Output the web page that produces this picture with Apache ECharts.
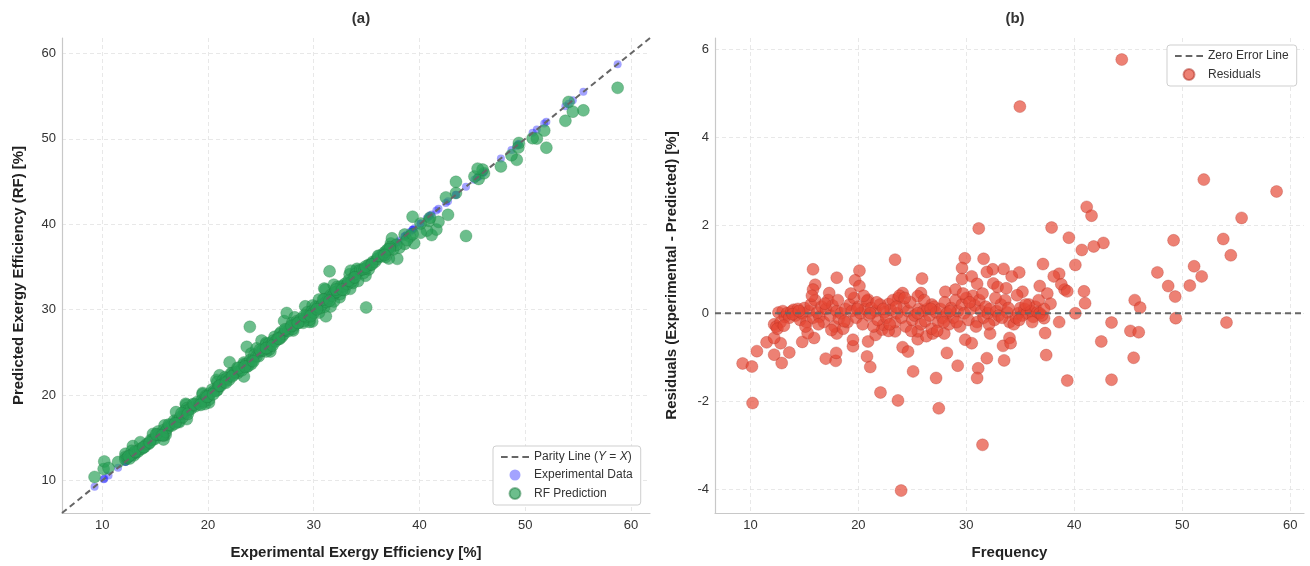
<!DOCTYPE html>
<html>
<head>
<meta charset="utf-8">
<script src="https://cdn.jsdelivr.net/npm/echarts@6/dist/echarts.min.js"></script>
<style>
html, body { margin: 0; background: #fff; }
#main { width: 1310px; height: 566px; }
</style>
</head>
<body>
<div id="main"></div>
<script>
// values (b): experimental efficiency and residual
var experimental = [
  44.4, 34.96, 52.0, 58.74, 55.5, 41.15, 41.6, 31.15, 37.9, 39.5,
  49.2, 53.8, 54.5, 42.7, 41.8, 40.7, 40.1, 37.1, 47.7, 51.1,
  51.8, 50.7, 48.7, 49.35, 40.9, 41.0, 45.6, 46.1, 40.1, 49.4,
  43.45, 54.1, 45.2, 45.97, 42.5, 45.5, 43.45, 39.35, 38.6, 37.3,
  37.4, 39.1, 38.6, 38.1, 38.8, 39.35, 34.9, 34.2, 33.45, 32.45,
  31.9, 31.6, 29.86, 29.6, 29.6, 30.5, 31.0, 32.5, 32.9, 33.7,
  35.2, 34.7, 36.8, 37.5, 37.8, 37.2, 25.9, 25.8, 25.5, 23.4,
  20.1, 19.7, 20.1, 18.0, 15.8, 16.0, 15.8, 17.3, 28.06, 29.0,
  26.8, 24.1, 23.67, 22.8, 20.9, 9.28, 10.14, 10.2, 10.6, 11.5,
  12.2, 12.9, 13.6, 12.8, 12.2, 14.8, 15.9, 15.3, 16.98, 17.9,
  17.95, 18.0, 19.5, 19.5, 20.8, 21.1, 20.9, 22.05, 23.67, 23.96,
  24.1, 24.6, 25.07, 25.5, 26.3, 26.9, 27.2, 27.45, 28.2, 27.96,
  29.2, 29.9, 30.5, 31.1, 31.0, 31.5, 31.9, 32.2, 33.4, 34.0,
  34.1, 33.5, 21.6, 22.2, 22.3, 23.4, 25.5,
  // dense band around zero
  12.2, 12.4, 12.6, 12.8, 13.0, 13.2, 13.4, 13.6, 13.8, 14.0,
  14.2, 14.4, 14.6, 14.8, 15.0, 15.2, 15.4, 15.6, 15.8, 16.0,
  16.2, 16.4, 16.6, 16.8, 17.0, 17.2, 17.4, 17.6, 17.8, 18.0,
  18.2, 18.4, 18.6, 18.8, 19.0, 19.2, 19.4, 19.6, 19.8, 20.0,
  20.2, 20.4, 20.6, 20.8, 21.0, 21.2, 21.4, 21.6, 21.8, 22.0,
  22.4, 22.6, 22.8, 23.0, 23.2, 23.4, 23.6, 23.8, 24.0, 24.2,
  24.4, 24.6, 24.8, 25.0, 25.2, 25.6, 25.8, 26.0, 26.2, 26.4,
  26.6, 26.8, 27.0, 27.2, 27.4, 27.6, 27.8, 28.0, 28.2, 28.4,
  28.6, 28.8, 29.0, 29.2, 29.4, 29.6, 29.8, 30.0, 30.2, 30.4,
  30.6, 30.8, 31.0, 31.2, 31.4, 31.6, 31.8, 32.0, 32.2, 32.6,
  32.8, 33.0, 33.2, 33.6, 33.8, 34.0, 34.4, 34.6, 34.8, 35.0,
  35.2, 35.4, 35.6, 35.8, 36.0, 36.2, 36.4, 36.6, 36.8, 37.0,
  37.2,
  12.5, 13.1, 13.9, 14.5, 15.1, 15.7, 16.3, 16.9, 17.5, 18.1,
  18.7, 19.3, 19.9, 20.5, 21.1, 21.7, 22.3, 22.9, 23.5, 24.3,
  24.9, 25.5, 26.1, 26.7, 27.3, 27.9, 28.5, 29.1, 29.7, 30.3,
  30.9, 31.5, 32.1, 32.7, 33.3, 33.9, 34.9, 35.5, 36.1, 36.7
];
var residuals = [
  5.77, 4.70, 3.04, 2.77, 2.17, 2.42, 2.22, 1.93, 1.95, 1.72,
  1.66, 1.69, 1.32, 1.60, 1.52, 1.44, 1.10, 1.12, 0.93, 1.07,
  0.84, 0.63, 0.62, 0.38, 0.50, 0.23, 0.30, 0.13, 0.0, -0.11,
  -0.21, -0.21, -0.40, -0.43, -0.64, -1.01, -1.51, -1.53, -0.20, -0.45,
  -0.95, 0.54, 0.90, 0.84, 0.66, 0.50, 0.93, 0.84, 1.01, 1.0,
  0.94, 1.24, 1.25, 1.03, 0.78, 0.84, 0.67, 0.68, 0.60, 0.57,
  0.49, 0.41, 0.62, 0.45, 0.22, -0.11, 0.79, 0.46, 0.39, 1.22,
  0.97, 0.75, 0.62, 0.81, 1.0, 0.65, 0.54, 0.46, 0.49, 0.54,
  0.20, 0.46, 0.34, 0.21, 0.31, -1.14, -1.21, -2.04, -0.86, -0.66,
  -0.94, -1.13, -0.89, -0.68, -0.56, -0.65, -0.56, -0.45, -1.03, -1.08,
  -0.90, -0.46, -0.75, -0.60, -0.98, -1.22, -0.64, -1.80, -1.98, -4.03,
  -0.77, -0.87, -1.32, -0.59, -0.52, -0.46, -1.47, -2.16, -0.90, -0.46,
  -1.19, -0.60, -0.68, -1.25, -1.47, -2.99, -1.02, -0.46, -0.74, -0.56,
  -0.68, -1.07, -0.49, -0.37, -0.26, -0.41, -0.41,
  // dense band around zero
  -0.25, -0.30, 0.02, -0.20, 0.05, -0.08, 0.0, -0.10, 0.04, 0.08,
  -0.05, 0.10, -0.15, 0.0, 0.12, -0.20, 0.05, 0.20, -0.10, 0.30,
  0.02, -0.08, 0.15, -0.20, 0.10, 0.30, -0.05, 0.18, -0.30, 0.05,
  -0.12, 0.0, -0.35, 0.10, -0.20, 0.20, 0.05, 0.35, -0.10, 0.15,
  0.0, -0.25, 0.10, 0.28, -0.05, 0.12, -0.30, 0.05, -0.15, 0.20,
  0.02, -0.10, -0.40, 0.08, 0.30, -0.20, 0.0, 0.40, -0.10, 0.15,
  -0.30, 0.05, 0.25, -0.15, -0.05, 0.10, -0.25, 0.05, -0.18, 0.10,
  -0.05, -0.35, 0.15, 0.02, -0.20, 0.10, -0.10, 0.25, 0.0, -0.25,
  0.12, -0.10, 0.30, 0.05, -0.30, 0.20, 0.0, 0.35, -0.15, 0.10,
  0.40, 0.18, -0.20, 0.30, 0.05, -0.10, 0.15, 0.0, 0.10, -0.15,
  0.05, -0.05, 0.20, 0.30, 0.02, -0.20, -0.25, -0.10, 0.0, 0.12,
  -0.05, 0.10, 0.0, 0.20, 0.05, -0.08, 0.15, 0.02, 0.0, -0.05,
  0.10,
  -0.35, -0.28, -0.02, 0.05, -0.30, 0.40, -0.25, 0.22, -0.38, 0.30,
  -0.18, 0.45, 0.10, 0.40, 0.0, 0.25, 0.10, -0.25, 0.15, 0.35,
  -0.40, 0.0, 0.30, 0.10, -0.40, -0.20, 0.05, -0.20, 0.45, 0.25,
  -0.30, 0.45, -0.25, 0.35, -0.10, 0.12, -0.15, 0.20, -0.20, 0.30
];

var ticksA = [10, 20, 30, 40, 50, 60];
var ticksBx = [10, 20, 30, 40, 50, 60];
var ticksBy = [-4, -2, 0, 2, 4, 6];

// axis limits
var limA = [6.2, 61.8];
var limBx = [6.72, 61.28];
var limBy = [-4.54, 6.26];

var font = 'Liberation Sans, Arial, sans-serif';
var dashIcon = 'path://M0,0h5v1.5h-5z M8,0h5v1.5h-5z M16,0h5v1.5h-5z';

// residual = experimental - predicted
var predicted = experimental.map(function (v, i) {
    return +(v - residuals[i]).toFixed(2);
});

var expData = experimental.map(function (v) { return [v, v]; });
var predData = experimental.map(function (v, i) { return [v, predicted[i]]; });
var resData = experimental.map(function (v, i) { return [v, residuals[i]]; });

function makeAxis(grid, lim, ticks, name, gap) {
    return {
        type: 'value',
        gridIndex: grid,
        min: lim[0],
        max: lim[1],
        name: name,
        nameLocation: 'middle',
        nameGap: gap,
        nameTextStyle: { fontFamily: font, fontWeight: 'bold', fontSize: 15, color: '#222' },
        axisLine: { show: true, onZero: false, lineStyle: { color: '#c8c8c8', width: 1.2 } },
        axisTick: { show: false, customValues: ticks },
        axisLabel: { customValues: ticks, color: '#333', fontSize: 13, margin: 6, fontFamily: font },
        splitLine: { show: true, lineStyle: { color: '#e2e2e2', type: [4, 3], width: 0.8 } }
    };
}

var chart = echarts.init(document.getElementById('main'));

var legendBase = {
    orient: 'vertical',
    padding: [5, 8, 5, 8], itemGap: 6, itemWidth: 28, itemHeight: 11,
    borderColor: '#cfcfcf', borderWidth: 1, borderRadius: 3, backgroundColor: '#fff',
    textStyle: { fontFamily: font, fontSize: 12, color: '#333',
        rich: { i: { fontStyle: 'italic', fontFamily: font, fontSize: 12, color: '#333' } } }
};

var option = {
    backgroundColor: '#fff',
    animation: false,
    title: [
        { text: '(a)', left: 356, top: 6, textAlign: 'center',
          textStyle: { fontFamily: font, fontSize: 15, fontWeight: 'bold', color: '#333' } },
        { text: '(b)', left: 1010, top: 6, textAlign: 'center',
          textStyle: { fontFamily: font, fontSize: 15, fontWeight: 'bold', color: '#333' } }
    ],
    grid: [
        { left: 62, top: 38, width: 588, height: 475 },
        { left: 715, top: 38, width: 589, height: 475 }
    ],
    xAxis: [
        makeAxis(0, limA, ticksA, 'Experimental Exergy Efficiency [%]', 32),
        makeAxis(1, limBx, ticksBx, 'Frequency', 32)
    ],
    yAxis: [
        makeAxis(0, limA, ticksA, 'Predicted Exergy Efficiency (RF) [%]', 36),
        makeAxis(1, limBy, ticksBy, 'Residuals (Experimental - Predicted) [%]', 36)
    ],
    legend: [
        Object.assign({}, legendBase, {
            left: 493, top: 446,
            formatter: function (name) {
                if (name === 'Parity Line') return 'Parity Line ({i|Y} = {i|X})';
                return name;
            },
            data: [
                { name: 'Parity Line', icon: dashIcon },
                { name: 'Experimental Data', icon: 'circle' },
                { name: 'RF Prediction', icon: 'circle' }
            ]
        }),
        Object.assign({}, legendBase, {
            left: 1167, top: 45,
            data: [
                { name: 'Zero Error Line', icon: dashIcon },
                { name: 'Residuals', icon: 'circle' }
            ]
        })
    ],
    series: [
        {
            name: 'Parity Line', type: 'line', xAxisIndex: 0, yAxisIndex: 0,
            data: [[limA[0], limA[0]], [limA[1], limA[1]]],
            symbol: 'none', z: 5,
            lineStyle: { color: '#666', width: 2, type: [6, 4] },
            itemStyle: { color: '#666' }
        },
        {
            name: 'Experimental Data', type: 'scatter', xAxisIndex: 0, yAxisIndex: 0,
            data: expData, symbolSize: 8, z: 3,
            itemStyle: { color: 'rgba(0,0,255,0.45)' }
        },
        {
            name: 'RF Prediction', type: 'scatter', xAxisIndex: 0, yAxisIndex: 0,
            data: predData, symbolSize: 12, z: 4,
            itemStyle: { color: 'rgba(39,160,86,0.85)', borderColor: 'rgba(30,120,60,0.6)', borderWidth: 0.6 }
        },
        {
            name: 'Zero Error Line', type: 'line', xAxisIndex: 1, yAxisIndex: 1,
            data: [[limBx[0], 0], [limBx[1], 0]],
            symbol: 'none', z: 5,
            lineStyle: { color: '#666', width: 2, type: [6, 4] },
            itemStyle: { color: '#666' }
        },
        {
            name: 'Residuals', type: 'scatter', xAxisIndex: 1, yAxisIndex: 1,
            data: resData, symbolSize: 12, z: 4,
            itemStyle: { color: 'rgba(228,70,52,0.85)', borderColor: 'rgba(170,40,30,0.6)', borderWidth: 0.6 }
        }
    ]
};

chart.setOption(option);
</script>
</body>
</html>
